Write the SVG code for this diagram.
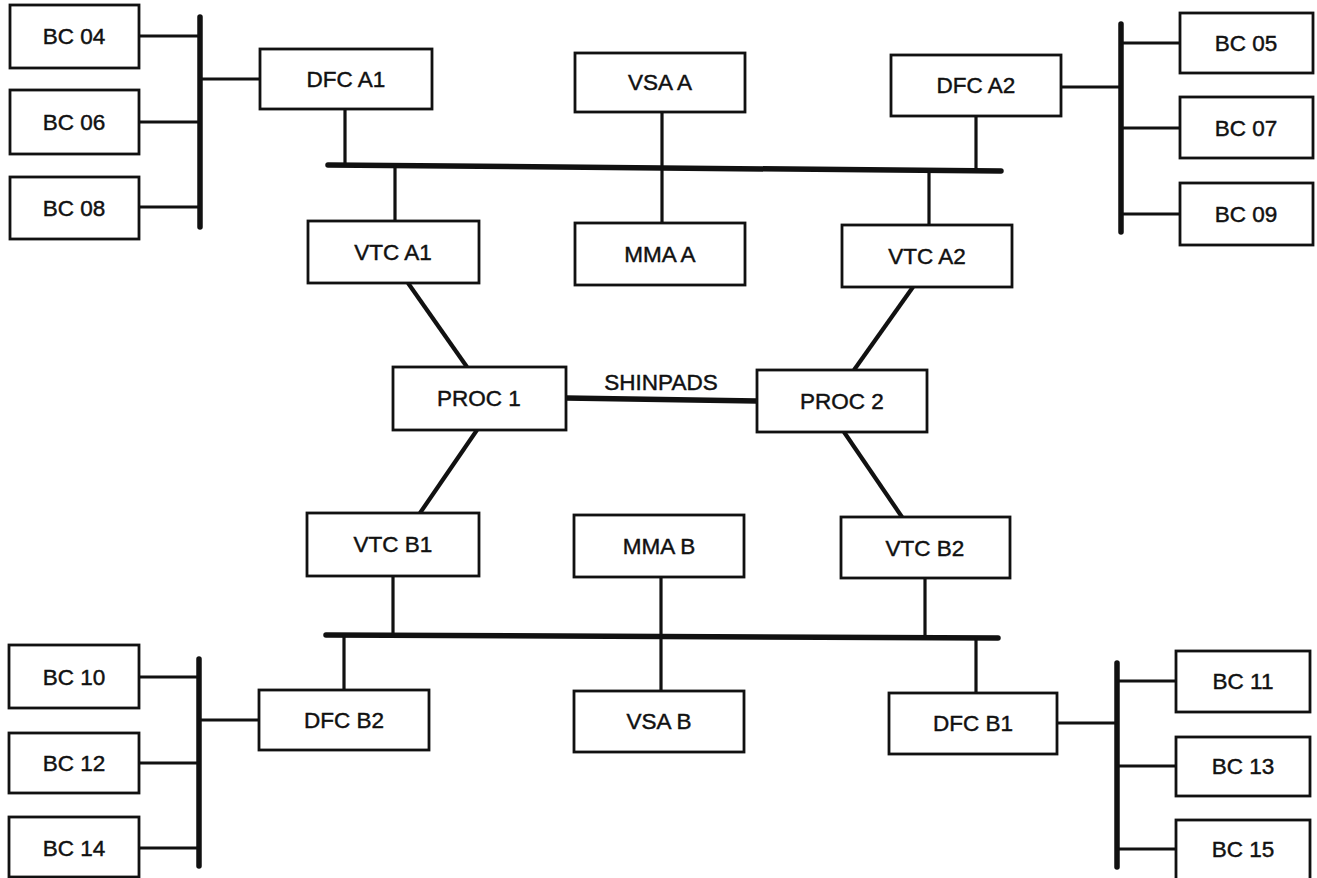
<svg xmlns="http://www.w3.org/2000/svg" width="1317" height="878" viewBox="0 0 1317 878">
<style>
.box{fill:#fff;stroke:#111;stroke-width:2.8}
.lbl{font-family:"Liberation Sans",Arial,sans-serif;font-size:22.5px;fill:#111;stroke:#111;stroke-width:0.45;text-anchor:middle}
.ln{stroke:#111;stroke-width:3.2;fill:none}
.dg{stroke:#111;stroke-width:4.2;fill:none}
.bus{stroke:#111;stroke-width:5.5;fill:none;stroke-linecap:round}
</style>
<rect width="1317" height="878" fill="#fff"/>
<g id="connectors">
<line class="bus" x1="200" y1="17" x2="200" y2="227"/>
<line class="ln" x1="139" y1="36" x2="200" y2="36"/>
<line class="ln" x1="139" y1="122" x2="200" y2="122"/>
<line class="ln" x1="139" y1="207" x2="200" y2="207"/>
<line class="ln" x1="200" y1="79" x2="260" y2="79"/>
<line class="bus" x1="328" y1="165" x2="1001" y2="171"/>
<line class="ln" x1="345" y1="109" x2="345" y2="165"/>
<line class="ln" x1="395" y1="165" x2="395" y2="221"/>
<line class="ln" x1="662" y1="112" x2="662" y2="223"/>
<line class="ln" x1="976" y1="116" x2="976" y2="170"/>
<line class="ln" x1="929" y1="171" x2="929" y2="225"/>
<line class="bus" x1="1121" y1="24" x2="1121" y2="232"/>
<line class="ln" x1="1061" y1="87" x2="1121" y2="87"/>
<line class="ln" x1="1121" y1="43" x2="1180" y2="43"/>
<line class="ln" x1="1121" y1="128" x2="1180" y2="128"/>
<line class="ln" x1="1121" y1="214" x2="1180" y2="214"/>
<line class="dg" x1="408" y1="283" x2="467" y2="367"/>
<line class="dg" x1="913" y1="287" x2="854" y2="370"/>
<line class="dg" x1="477" y1="430" x2="420" y2="513"/>
<line class="dg" x1="844" y1="432" x2="902" y2="517"/>
<line class="bus" style="stroke-linecap:butt" x1="566" y1="398" x2="757" y2="401"/>
<line class="bus" x1="326" y1="635" x2="998" y2="638"/>
<line class="ln" x1="393" y1="576" x2="393" y2="635"/>
<line class="ln" x1="344" y1="635" x2="344" y2="690"/>
<line class="ln" x1="661" y1="577" x2="661" y2="691"/>
<line class="ln" x1="925" y1="578" x2="925" y2="638"/>
<line class="ln" x1="976" y1="638" x2="976" y2="693"/>
<line class="bus" x1="199" y1="659" x2="199" y2="866"/>
<line class="ln" x1="139" y1="677" x2="199" y2="677"/>
<line class="ln" x1="139" y1="763" x2="199" y2="763"/>
<line class="ln" x1="139" y1="848" x2="199" y2="848"/>
<line class="ln" x1="199" y1="720" x2="259" y2="720"/>
<line class="bus" x1="1117" y1="663" x2="1117" y2="867"/>
<line class="ln" x1="1057" y1="723" x2="1117" y2="723"/>
<line class="ln" x1="1117" y1="681" x2="1176" y2="681"/>
<line class="ln" x1="1117" y1="766" x2="1176" y2="766"/>
<line class="ln" x1="1117" y1="849" x2="1176" y2="849"/>
</g>
<text class="lbl" x="661" y="390">SHINPADS</text>
<g id="bc04"><rect class="box" x="10" y="5" width="129" height="63"/><text class="lbl" x="74" y="44">BC 04</text></g>
<g id="bc06"><rect class="box" x="10" y="90" width="129" height="64"/><text class="lbl" x="74" y="130">BC 06</text></g>
<g id="bc08"><rect class="box" x="10" y="177" width="129" height="62"/><text class="lbl" x="74" y="216">BC 08</text></g>
<g id="dfca1"><rect class="box" x="260" y="49" width="172" height="60"/><text class="lbl" x="346" y="87">DFC A1</text></g>
<g id="vsaa"><rect class="box" x="575" y="53" width="170" height="59"/><text class="lbl" x="660" y="90">VSA A</text></g>
<g id="dfca2"><rect class="box" x="891" y="55" width="170" height="61"/><text class="lbl" x="976" y="93">DFC A2</text></g>
<g id="bc05"><rect class="box" x="1180" y="13" width="133" height="60"/><text class="lbl" x="1246" y="51">BC 05</text></g>
<g id="bc07"><rect class="box" x="1180" y="97" width="133" height="61"/><text class="lbl" x="1246" y="136">BC 07</text></g>
<g id="bc09"><rect class="box" x="1180" y="183" width="133" height="62"/><text class="lbl" x="1246" y="222">BC 09</text></g>
<g id="vtca1"><rect class="box" x="308" y="221" width="171" height="62"/><text class="lbl" x="393" y="260">VTC A1</text></g>
<g id="mmaa"><rect class="box" x="575" y="223" width="170" height="62"/><text class="lbl" x="660" y="262">MMA A</text></g>
<g id="vtca2"><rect class="box" x="842" y="225" width="170" height="62"/><text class="lbl" x="927" y="264">VTC A2</text></g>
<g id="proc1"><rect class="box" x="393" y="367" width="173" height="63"/><text class="lbl" x="479" y="406">PROC 1</text></g>
<g id="proc2"><rect class="box" x="757" y="370" width="170" height="62"/><text class="lbl" x="842" y="409">PROC 2</text></g>
<g id="vtcb1"><rect class="box" x="307" y="513" width="172" height="63"/><text class="lbl" x="393" y="552">VTC B1</text></g>
<g id="mmab"><rect class="box" x="574" y="515" width="170" height="62"/><text class="lbl" x="659" y="554">MMA B</text></g>
<g id="vtcb2"><rect class="box" x="841" y="517" width="169" height="61"/><text class="lbl" x="925" y="556">VTC B2</text></g>
<g id="dfcb2"><rect class="box" x="259" y="690" width="170" height="60"/><text class="lbl" x="344" y="728">DFC B2</text></g>
<g id="vsab"><rect class="box" x="574" y="691" width="170" height="61"/><text class="lbl" x="659" y="729">VSA B</text></g>
<g id="dfcb1"><rect class="box" x="889" y="693" width="168" height="61"/><text class="lbl" x="973" y="731">DFC B1</text></g>
<g id="bc10"><rect class="box" x="9" y="645" width="130" height="63"/><text class="lbl" x="74" y="685">BC 10</text></g>
<g id="bc12"><rect class="box" x="9" y="733" width="130" height="60"/><text class="lbl" x="74" y="771">BC 12</text></g>
<g id="bc14"><rect class="box" x="9" y="817" width="130" height="60"/><text class="lbl" x="74" y="856">BC 14</text></g>
<g id="bc11"><rect class="box" x="1176" y="651" width="134" height="61"/><text class="lbl" x="1243" y="689">BC 11</text></g>
<g id="bc13"><rect class="box" x="1176" y="737" width="134" height="59"/><text class="lbl" x="1243" y="774">BC 13</text></g>
<g id="bc15"><rect class="box" x="1176" y="820" width="134" height="64"/><text class="lbl" x="1243" y="857">BC 15</text></g>
</svg>
